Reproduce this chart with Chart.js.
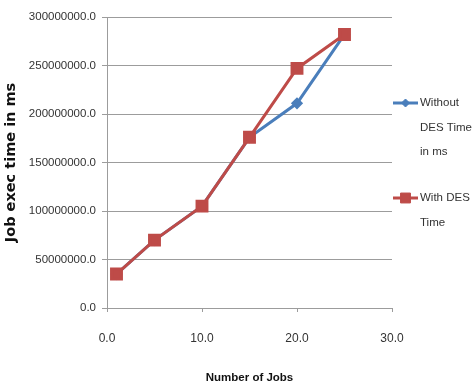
<!DOCTYPE html>
<html>
<head>
<meta charset="utf-8">
<script src="https://cdn.jsdelivr.net/npm/chart.js@4/dist/chart.umd.min.js"></script>
<style>
  html, body { margin: 0; padding: 0; background: #fff; }
  #wrap { width: 476px; height: 389px; position: relative; }
</style>
</head>
<body>
<div id="wrap"><canvas id="c" width="476" height="389"></canvas></div>
<script>
// ---- data ----
const jobs = [1, 5, 10, 15, 20, 25];
const withoutDES = [35000000, 70000000, 105000000, 176000000, 211000000, 282000000];
const withDES = [35000000, 70000000, 105000000, 176000000, 247000000, 282000000];
const seriesLabels = [["Without", "DES Time", "in ms"], ["With DES", "Time"]];
const xTickValues = [0, 10, 20, 30];
const yTickValues = [0, 50000000, 100000000, 150000000, 200000000, 250000000, 300000000];
const xTitle = "Number of Jobs";
const yTitle = "Job exec time in ms";

const SANS = "'Liberation Sans', Arial, sans-serif";
const gridCol = '#9c9c9c';
const textCol = '#333333';

const legendPlugin = {
  id: 'sideLegend',
  afterDraw(chart) {
    const ctx = chart.ctx;
    const x0 = 393, x1 = 418, tx = 420;
    const starts = [103, 198];
    ctx.save();
    chart.data.datasets.forEach((ds, i) => {
      const y = starts[i];
      ctx.strokeStyle = ds.borderColor;
      ctx.lineWidth = 3;
      ctx.beginPath(); ctx.moveTo(x0, y); ctx.lineTo(x1, y); ctx.stroke();
      ctx.fillStyle = ds.pointBackgroundColor;
      ctx.strokeStyle = ds.borderColor;
      ctx.lineWidth = 1;
      Chart.helpers.drawPoint(ctx, {pointStyle: ds.pointStyle, radius: ds.pointRadius, borderWidth: 1}, (x0 + x1) / 2, y);
      ctx.fillStyle = textCol;
      ctx.font = "11.5px " + SANS;
      ctx.textBaseline = 'middle';
      ctx.textAlign = 'left';
      seriesLabels[i].forEach((t, k) => ctx.fillText(t, tx, y + k * 24.5));
    });
    ctx.restore();
  }
};

new Chart(document.getElementById('c'), {
  type: 'line',
  data: {
    datasets: [
      {
        label: seriesLabels[0].join(' '),
        data: jobs.map((x, i) => ({x: x, y: withoutDES[i]})),
        borderColor: '#4a7ebb',
        backgroundColor: '#4a7ebb',
        pointBackgroundColor: '#4a7ebb',
        pointBorderColor: '#4a7ebb',
        pointStyle: 'rectRot',
        pointRadius: 4,
        borderWidth: 3,
        order: 1
      },
      {
        label: seriesLabels[1].join(' '),
        data: jobs.map((x, i) => ({x: x, y: withDES[i]})),
        borderColor: '#be4b48',
        backgroundColor: '#be4b48',
        pointBackgroundColor: '#be4b48',
        pointBorderColor: '#be4b48',
        pointStyle: 'rect',
        pointRadius: 7,
        borderWidth: 3,
        order: 0
      }
    ]
  },
  options: {
    responsive: false,
    animation: false,
    devicePixelRatio: 1,
    layout: { padding: { top: 17, right: 84, left: 0, bottom: 0 } },
    plugins: { legend: { display: false }, tooltip: { enabled: false } },
    elements: { line: { tension: 0 } },
    scales: {
      x: {
        type: 'linear',
        min: 0, max: 30,
        afterBuildTicks: (s) => { s.ticks = xTickValues.map(v => ({value: v})); },
        afterFit: (s) => { s.height = 81; },
        ticks: {
          callback: (v) => Number(v).toFixed(1),
          color: textCol,
          font: { family: SANS, size: 12 },
          padding: 19,
          maxRotation: 0
        },
        grid: { drawOnChartArea: false, drawTicks: true, tickLength: 4, color: gridCol },
        border: { color: gridCol, width: 1 },
        title: {
          display: true, text: xTitle, color: '#111',
          font: { family: SANS, size: 11.5, weight: 'bold' },
          padding: { top: 0, bottom: 4 }
        }
      },
      y: {
        type: 'linear',
        min: 0, max: 300000000,
        afterBuildTicks: (s) => { s.ticks = yTickValues.map(v => ({value: v})); },
        afterFit: (s) => { s.width = 107; },
        ticks: {
          callback: (v) => Number(v).toFixed(1),
          color: textCol,
          font: { family: SANS, size: 11.5 },
          padding: 6
        },
        grid: { color: gridCol, tickLength: 5, lineWidth: 1 },
        border: { color: gridCol, width: 1 },
        title: {
          display: true, text: yTitle, color: '#111',
          font: { family: "'DejaVu Sans', sans-serif", size: 14.5, weight: 'bold' },
          padding: { top: 3, bottom: 0 }
        }
      }
    }
  },
  plugins: [legendPlugin]
});
</script>
</body>
</html>
